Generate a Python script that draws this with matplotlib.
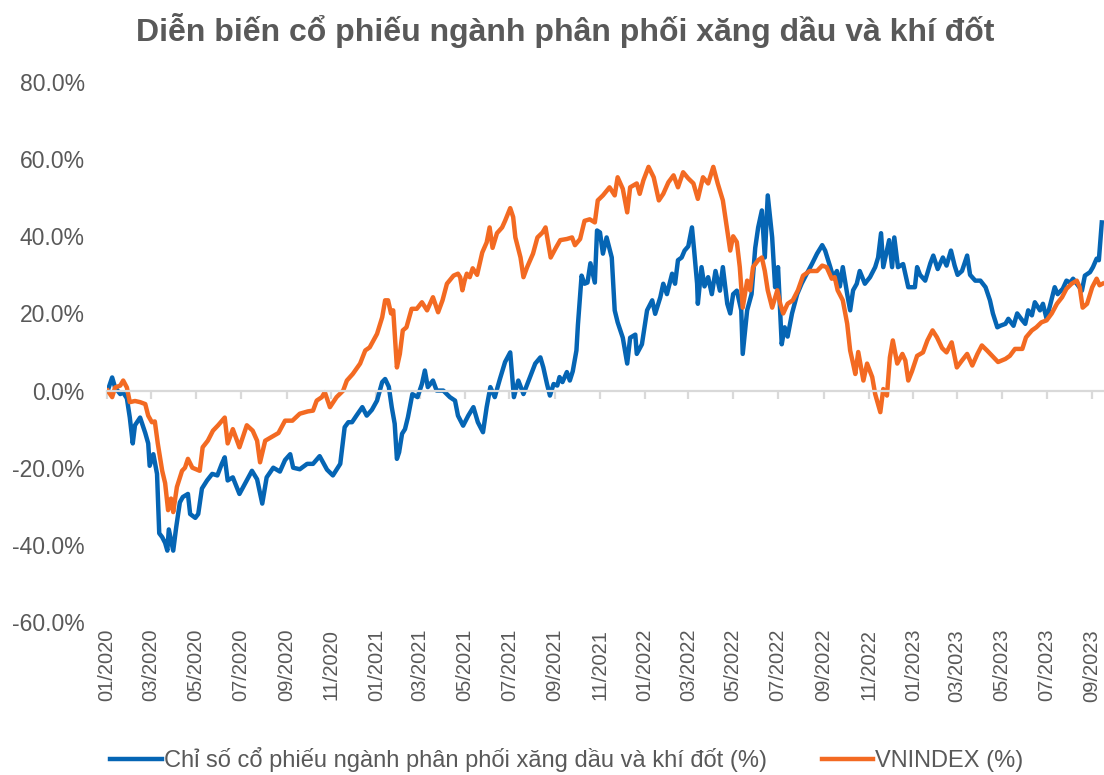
import matplotlib
matplotlib.use("Agg")
import matplotlib.pyplot as plt
import matplotlib.dates as mdates
from matplotlib.ticker import FuncFormatter
import pandas as pd

title = "Diễn biến cổ phiếu ngành phân phối xăng dầu và khí đốt"
label_sector = "Chỉ số cổ phiếu ngành phân phối xăng dầu và khí đốt (%)"
label_vni = "VNINDEX (%)"

sector_dates = [
    "2020-01-02", "2020-01-08", "2020-01-12", "2020-01-19", "2020-01-23", "2020-01-28",
    "2020-02-01", "2020-02-05", "2020-02-08", "2020-02-15", "2020-02-22", "2020-02-26",
    "2020-02-28", "2020-03-04", "2020-03-09", "2020-03-12", "2020-03-16", "2020-03-20",
    "2020-03-23", "2020-03-25", "2020-03-31", "2020-04-04", "2020-04-09", "2020-04-13",
    "2020-04-20", "2020-04-23", "2020-04-30", "2020-05-04", "2020-05-09", "2020-05-16",
    "2020-05-23", "2020-05-30", "2020-06-05", "2020-06-09", "2020-06-13", "2020-06-20",
    "2020-06-29", "2020-07-07", "2020-07-16", "2020-07-23", "2020-07-30", "2020-08-05",
    "2020-08-14", "2020-08-23", "2020-08-30", "2020-09-06", "2020-09-10", "2020-09-19",
    "2020-09-29", "2020-10-07", "2020-10-16", "2020-10-26", "2020-11-03", "2020-11-13",
    "2020-11-19", "2020-11-24", "2020-11-29", "2020-12-05", "2020-12-13", "2020-12-19",
    "2020-12-26", "2021-01-02", "2021-01-09", "2021-01-13", "2021-01-18", "2021-01-22",
    "2021-01-26", "2021-01-29", "2021-02-01", "2021-02-05", "2021-02-09", "2021-02-13",
    "2021-02-19", "2021-02-26", "2021-03-04", "2021-03-08", "2021-03-12", "2021-03-19",
    "2021-03-24", "2021-04-02", "2021-04-11", "2021-04-18", "2021-04-22", "2021-04-29",
    "2021-05-06", "2021-05-13", "2021-05-19", "2021-05-26", "2021-05-31", "2021-06-05",
    "2021-06-11", "2021-06-18", "2021-06-25", "2021-07-02", "2021-07-07", "2021-07-13",
    "2021-07-20", "2021-07-30", "2021-08-05", "2021-08-12", "2021-08-16", "2021-08-21",
    "2021-08-25", "2021-08-30", "2021-09-04", "2021-09-07", "2021-09-11", "2021-09-17",
    "2021-09-21", "2021-09-25", "2021-09-30", "2021-10-02", "2021-10-07", "2021-10-11",
    "2021-10-15", "2021-10-19", "2021-10-25", "2021-10-28", "2021-11-01", "2021-11-05",
    "2021-11-10", "2021-11-17", "2021-11-21", "2021-11-25", "2021-12-02", "2021-12-08",
    "2021-12-12", "2021-12-19", "2021-12-21", "2021-12-28", "2022-01-04", "2022-01-11",
    "2022-01-15", "2022-01-22", "2022-01-26", "2022-01-31", "2022-02-07", "2022-02-11",
    "2022-02-15", "2022-02-20", "2022-02-24", "2022-03-01", "2022-03-06", "2022-03-09",
    "2022-03-13", "2022-03-14", "2022-03-19", "2022-03-23", "2022-03-28", "2022-04-02",
    "2022-04-07", "2022-04-13", "2022-04-17", "2022-04-23", "2022-04-27", "2022-05-01",
    "2022-05-06", "2022-05-12", "2022-05-14", "2022-05-20", "2022-05-26", "2022-05-31",
    "2022-06-04", "2022-06-09", "2022-06-13", "2022-06-17", "2022-06-23", "2022-06-27",
    "2022-07-01", "2022-07-06", "2022-07-10", "2022-07-14", "2022-07-20", "2022-07-27",
    "2022-08-02", "2022-08-09", "2022-08-16", "2022-08-23", "2022-08-30", "2022-09-03",
    "2022-09-10", "2022-09-14", "2022-09-19", "2022-09-23", "2022-09-27", "2022-10-03",
    "2022-10-07", "2022-10-11", "2022-10-16", "2022-10-20", "2022-10-27", "2022-11-03",
    "2022-11-10", "2022-11-14", "2022-11-18", "2022-11-21", "2022-11-26", "2022-11-29",
    "2022-12-03", "2022-12-06", "2022-12-11", "2022-12-18", "2022-12-25", "2023-01-03",
    "2023-01-06", "2023-01-10", "2023-01-17", "2023-01-24", "2023-01-28", "2023-02-03",
    "2023-02-10", "2023-02-15", "2023-02-21", "2023-02-26", "2023-03-02", "2023-03-08",
    "2023-03-15", "2023-03-19", "2023-03-26", "2023-04-02", "2023-04-09", "2023-04-15",
    "2023-04-19", "2023-04-25", "2023-04-29", "2023-05-06", "2023-05-10", "2023-05-17",
    "2023-05-22", "2023-05-29", "2023-06-02", "2023-06-06", "2023-06-11", "2023-06-15",
    "2023-06-22", "2023-06-26", "2023-07-01", "2023-07-05", "2023-07-12", "2023-07-16",
    "2023-07-23", "2023-07-28", "2023-08-02", "2023-08-06", "2023-08-11", "2023-08-18",
    "2023-08-22", "2023-08-29", "2023-09-02", "2023-09-07", "2023-09-10", "2023-09-14",
]
sector_values = [
    0.0, 3.4, 0.8, -0.9, -0.5, -2.0,
    -7.0, -13.7, -9.0, -7.0, -11.0, -13.7,
    -19.5, -16.5, -21.6, -37.0, -38.0, -39.5,
    -41.5, -36.0, -41.5, -35.5, -29.0, -27.6,
    -26.8, -32.0, -33.0, -32.0, -25.4, -23.3,
    -21.6, -22.0, -19.0, -17.3, -23.3, -22.5,
    -26.8, -24.0, -20.8, -23.0, -29.3, -22.5,
    -20.0, -21.0, -18.0, -16.5, -20.0, -20.4,
    -19.0, -19.0, -17.0, -20.5, -22.0, -19.0,
    -9.5, -8.2, -8.2, -6.5, -4.3, -6.5,
    -5.0, -2.6, 2.2, 3.0, 1.0, -4.3,
    -8.6, -17.7, -16.0, -11.2, -10.0, -6.9,
    -0.9, -1.7, 1.7, 5.2, 0.9, 2.6,
    0.0, 0.0, -1.7, -2.6, -6.5, -9.1,
    -6.5, -4.3, -8.2, -10.8, -4.3, 0.9,
    -1.7, 3.0, 7.4, 9.9, -1.7, 2.6,
    -0.9, 4.0, 7.0, 8.6, 6.0, 1.7,
    -1.3, 1.7, 1.3, 3.5, 2.2, 4.8,
    2.6, 5.0, 10.4, 17.0, 29.8, 27.7,
    28.0, 33.0, 28.0, 41.5, 41.0, 35.5,
    39.7, 34.5, 20.8, 17.7, 13.7, 7.0,
    13.7, 14.5, 9.5, 12.0, 20.8, 23.4,
    19.9, 24.2, 27.7, 25.0, 30.3, 27.7,
    33.8, 34.5, 36.3, 37.4, 42.3, 36.3,
    27.7, 22.5, 32.0, 27.0, 29.4, 25.0,
    31.0, 25.9, 32.0, 22.5, 20.0, 25.0,
    25.9, 20.8, 9.5, 20.8, 25.0, 37.0,
    42.3, 46.7, 34.5, 50.6, 39.7, 26.8,
    32.0, 12.0, 16.4, 14.0, 20.0, 25.0,
    27.7, 30.3, 32.8, 35.5, 37.7, 36.3,
    32.0, 29.4, 31.0, 27.0, 32.0, 25.0,
    20.8, 26.0, 27.7, 31.0, 27.7, 29.4,
    32.0, 34.5, 40.8, 32.0, 36.3, 39.0,
    32.0, 39.7, 32.0, 32.8, 26.8, 26.8,
    32.0, 30.0, 28.5, 33.0, 35.0, 31.5,
    34.5, 32.4, 36.3, 32.4, 30.0, 31.0,
    35.0, 30.0, 28.5, 28.5, 26.8, 23.4,
    20.0, 16.4, 16.8, 17.3, 18.6, 16.8,
    20.0, 18.2, 17.3, 20.8, 19.5, 22.9,
    20.8, 22.5, 18.6, 21.6, 26.8, 25.0,
    26.4, 28.5, 28.0, 29.0, 27.7, 25.9,
    29.8, 30.7, 32.0, 34.2, 33.8, 43.6,
]

vni_dates = [
    "2020-01-02", "2020-01-08", "2020-01-12", "2020-01-19", "2020-01-23", "2020-01-28",
    "2020-02-01", "2020-02-08", "2020-02-15", "2020-02-22", "2020-02-26", "2020-03-02",
    "2020-03-06", "2020-03-10", "2020-03-16", "2020-03-20", "2020-03-24", "2020-03-28",
    "2020-03-31", "2020-04-05", "2020-04-12", "2020-04-16", "2020-04-20", "2020-04-26",
    "2020-05-06", "2020-05-10", "2020-05-17", "2020-05-24", "2020-05-31", "2020-06-09",
    "2020-06-13", "2020-06-20", "2020-06-29", "2020-07-09", "2020-07-17", "2020-07-23",
    "2020-07-27", "2020-08-03", "2020-08-12", "2020-08-21", "2020-08-30", "2020-09-09",
    "2020-09-19", "2020-09-30", "2020-10-07", "2020-10-12", "2020-10-19", "2020-10-23",
    "2020-10-30", "2020-11-08", "2020-11-17", "2020-11-22", "2020-11-30", "2020-12-10",
    "2020-12-17", "2020-12-23", "2021-01-02", "2021-01-09", "2021-01-13", "2021-01-17",
    "2021-01-21", "2021-01-24", "2021-01-29", "2021-02-02", "2021-02-06", "2021-02-11",
    "2021-02-18", "2021-02-25", "2021-03-04", "2021-03-11", "2021-03-19", "2021-03-26",
    "2021-04-01", "2021-04-07", "2021-04-16", "2021-04-22", "2021-04-25", "2021-04-28",
    "2021-05-01", "2021-05-04", "2021-05-08", "2021-05-12", "2021-05-18", "2021-05-25",
    "2021-05-31", "2021-06-04", "2021-06-08", "2021-06-14", "2021-06-21", "2021-06-25",
    "2021-07-02", "2021-07-06", "2021-07-09", "2021-07-16", "2021-07-20", "2021-07-25",
    "2021-08-02", "2021-08-08", "2021-08-15", "2021-08-19", "2021-08-26", "2021-09-02",
    "2021-09-08", "2021-09-17", "2021-09-24", "2021-09-28", "2021-10-05", "2021-10-11",
    "2021-10-18", "2021-10-25", "2021-10-29", "2021-11-05", "2021-11-14", "2021-11-21",
    "2021-11-25", "2021-12-02", "2021-12-08", "2021-12-12", "2021-12-21", "2021-12-25",
    "2021-12-30", "2022-01-06", "2022-01-13", "2022-01-20", "2022-01-26", "2022-02-02",
    "2022-02-09", "2022-02-15", "2022-02-22", "2022-03-01", "2022-03-08", "2022-03-14",
    "2022-03-21", "2022-03-28", "2022-04-04", "2022-04-10", "2022-04-17", "2022-04-23",
    "2022-04-27", "2022-05-01", "2022-05-06", "2022-05-10", "2022-05-14", "2022-05-20",
    "2022-05-24", "2022-05-28", "2022-06-04", "2022-06-09", "2022-06-13", "2022-06-17",
    "2022-06-23", "2022-06-30", "2022-07-04", "2022-07-08", "2022-07-14", "2022-07-21",
    "2022-07-28", "2022-08-04", "2022-08-13", "2022-08-23", "2022-08-30", "2022-09-05",
    "2022-09-12", "2022-09-16", "2022-09-20", "2022-09-27", "2022-10-03", "2022-10-07",
    "2022-10-11", "2022-10-14", "2022-10-18", "2022-10-25", "2022-10-30", "2022-11-06",
    "2022-11-10", "2022-11-17", "2022-11-21", "2022-11-26", "2022-11-30", "2022-12-04",
    "2022-12-10", "2022-12-17", "2022-12-21", "2022-12-25", "2022-12-30", "2023-01-06",
    "2023-01-14", "2023-01-20", "2023-01-27", "2023-02-02", "2023-02-09", "2023-02-15",
    "2023-02-22", "2023-03-01", "2023-03-08", "2023-03-15", "2023-03-22", "2023-03-29",
    "2023-04-04", "2023-04-11", "2023-04-18", "2023-04-26", "2023-05-06", "2023-05-12",
    "2023-05-19", "2023-05-29", "2023-06-03", "2023-06-11", "2023-06-17", "2023-06-24",
    "2023-07-01", "2023-07-08", "2023-07-15", "2023-07-22", "2023-07-28", "2023-08-04",
    "2023-08-11", "2023-08-15", "2023-08-19", "2023-08-25", "2023-09-01", "2023-09-07",
    "2023-09-11", "2023-09-15",
]
vni_values = [
    0.0, -1.7, 0.8, 1.3, 2.6, 0.8,
    -3.0, -2.7, -3.0, -3.5, -6.5, -8.2,
    -8.0, -13.7, -20.8, -24.0, -31.0, -28.0,
    -31.5, -25.0, -20.8, -20.0, -17.7, -20.0,
    -20.8, -14.7, -13.0, -10.4, -9.0, -7.0,
    -13.7, -10.0, -14.7, -9.0, -10.4, -13.0,
    -18.6, -13.0, -12.0, -11.0, -7.8, -7.8,
    -6.0, -5.4, -5.2, -2.6, -1.7, -0.4,
    -4.3, -1.7, 0.0, 2.6, 4.3, 7.0,
    10.4, 11.2, 14.7, 19.0, 23.4, 23.4,
    20.0, 20.8, 6.0, 9.5, 15.6, 16.4,
    21.2, 21.2, 22.9, 20.8, 24.2, 20.3,
    23.4, 27.7, 29.8, 30.3, 29.4, 26.0,
    28.5, 30.3, 29.4, 31.7, 30.0, 35.8,
    38.4, 42.3, 37.0, 40.8, 42.3, 44.0,
    47.3, 45.0, 39.7, 34.5, 29.4, 32.0,
    35.5, 39.7, 41.0, 42.3, 34.5, 37.0,
    39.0, 39.3, 39.7, 37.7, 39.3, 44.0,
    44.4, 43.6, 49.3, 50.6, 52.7, 50.6,
    55.3, 52.3, 46.2, 52.7, 53.7, 51.0,
    54.5, 58.0, 55.3, 49.3, 51.0, 54.0,
    55.8, 52.7, 56.6, 55.0, 53.7, 49.7,
    55.3, 53.7, 58.0, 53.7, 49.3, 41.5,
    36.3, 40.0, 38.5, 32.0, 21.5, 28.5,
    26.0, 32.0, 33.8, 34.5, 31.0, 26.0,
    21.5, 26.0, 22.5, 20.0, 22.5, 23.4,
    26.0, 29.8, 31.0, 31.0, 32.4, 32.0,
    29.0, 29.4, 26.0, 23.4, 17.3, 10.4,
    7.0, 4.3, 10.0, 2.6, 7.0, 3.5,
    -0.9, -5.6, 0.4, -1.3, 8.6, 13.0,
    7.0, 9.5, 7.8, 2.6, 5.0, 9.0,
    9.9, 13.0, 15.6, 13.8, 11.0, 9.9,
    12.5, 6.0, 7.8, 9.5, 6.5, 9.5,
    11.7, 10.4, 9.0, 7.4, 8.2, 9.0,
    10.8, 10.8, 13.8, 15.6, 16.4, 17.7,
    18.2, 20.0, 22.5, 24.2, 26.4, 27.7,
    28.5, 26.8, 21.5, 22.5, 26.8, 29.0,
    27.3, 27.7,
]

tick_dates = pd.date_range("2020-01-01", "2023-09-01", freq="2MS")
y_ticks = [-60, -40, -20, 0, 20, 40, 60, 80]

BLUE = "#0565B4"
ORANGE = "#F36A22"
TEXT = "#595959"
AXIS = "#D9D9D9"

plt.rcParams["font.family"] = ["Liberation Sans", "DejaVu Sans"]

fig = plt.figure(figsize=(11.04, 7.75), dpi=100)
ax = fig.add_axes([107 / 1104, (775 - 622) / 775, (1104 - 107) / 1104, (622 - 82) / 775])

sx = pd.to_datetime(sector_dates)
vx = pd.to_datetime(vni_dates)
ax.plot(sx, sector_values, color=BLUE, lw=3.2, label=label_sector, solid_joinstyle="round")
ax.plot(vx, vni_values, color=ORANGE, lw=3.2, label=label_vni, solid_joinstyle="round")

ax.set_ylim(-60, 80)
ax.set_xlim(pd.Timestamp("2020-01-01"), pd.Timestamp("2023-09-17"))
ax.set_yticks(y_ticks)
ax.yaxis.set_major_formatter(FuncFormatter(lambda v, p: f"{v:.1f}%"))
ax.tick_params(axis="y", length=0, pad=16, labelsize=16.5, labelcolor=TEXT)

for s in ["top", "right", "left"]:
    ax.spines[s].set_visible(False)
ax.spines["bottom"].set_position(("data", 0))
ax.spines["bottom"].set_color(AXIS)
ax.spines["bottom"].set_linewidth(1.6)
ax.set_xticks(tick_dates)
ax.tick_params(axis="x", direction="out", length=6, width=1.6, color=AXIS, labelbottom=False)

sec = ax.secondary_xaxis("bottom")
sec.set_xticks(tick_dates)
sec.xaxis.set_major_formatter(mdates.DateFormatter("%m/%Y"))
sec.tick_params(length=0, pad=5, labelsize=14.5, labelcolor=TEXT, labelrotation=90)
sec.spines["bottom"].set_visible(False)

fig.text(565 / 1104, 1 - 31 / 775, title, ha="center", va="center",
         fontsize=23, fontweight="bold", color=TEXT)

leg = fig.legend(loc="center", bbox_to_anchor=(567 / 1104, 15 / 775), ncol=2, frameon=False,
                 fontsize=17, handlelength=2.2, handletextpad=0.08, columnspacing=2.3,
                 labelcolor=TEXT)

fig.savefig("out.png", dpi=100)
